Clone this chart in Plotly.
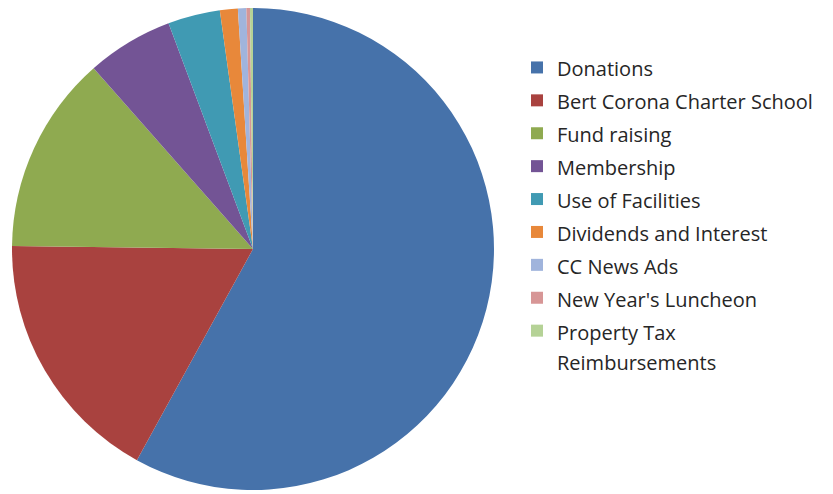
import plotly.graph_objects as go

labels = ["Donations", "Bert Corona Charter School", "Fund raising", "Membership",
          "Use of Facilities", "Dividends and Interest", "CC News Ads",
          "New Year's Luncheon", "Property Tax<br>Reimbursements"]
values = [58.0, 17.2, 13.3, 5.8, 3.5, 1.2, 0.56, 0.24, 0.2]
colors = ["#4672AA", "#A9423F", "#8FAA50", "#735495", "#409AB3", "#E8883A",
          "#A0B4DC", "#D79696", "#B5D296"]

legend_text = ['<span style="font-size:20px">%s</span>' % l for l in labels]

fig = go.Figure(go.Pie(
    labels=legend_text,
    values=values,
    sort=False,
    direction="clockwise",
    rotation=0,
    textinfo="none",
    hoverinfo="skip",
    marker=dict(colors=colors, line=dict(width=0)),
    domain=dict(x=[4/833, 486/833], y=[12/494, 1.0]),
))

fig.update_layout(
    width=833, height=494,
    margin=dict(l=0, r=0, t=0, b=0),
    paper_bgcolor="white",
    plot_bgcolor="white",
    font=dict(family="Open Sans", color="#262626"),
    legend=dict(
        x=509/833, y=1 - 38/494, xanchor="left", yanchor="top",
        font=dict(size=23, family="Open Sans", color="#262626"),
        valign="top",
        bgcolor="rgba(0,0,0,0)",
    ),
    showlegend=True,
)

fig.write_html("out.html")
